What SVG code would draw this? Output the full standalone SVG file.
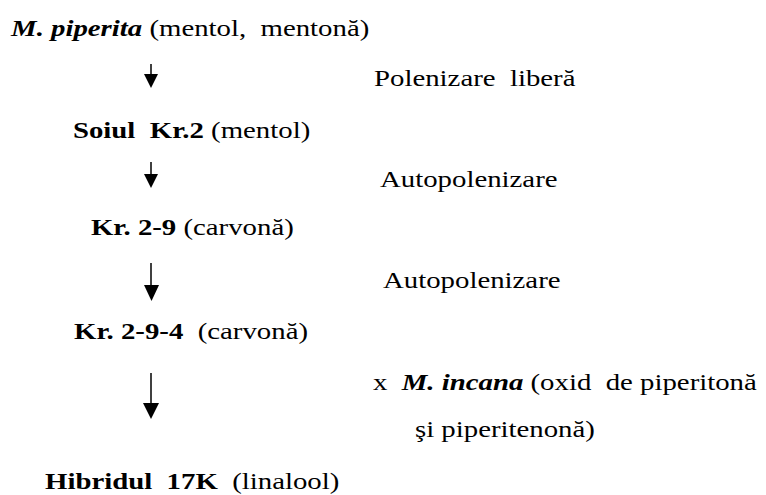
<svg xmlns="http://www.w3.org/2000/svg" width="766" height="495" viewBox="0 0 766 495">
<style>
text{font-family:'Liberation Serif','Times New Roman',serif;font-size:24px;fill:#000;white-space:pre}
.b{font-weight:bold}
.bi{font-weight:bold;font-style:italic}
.arr line{stroke:#000;stroke-width:1.5}
.arr polygon{fill:#000}
</style>
<rect width="766" height="495" fill="#fff"/>
<g transform="scale(1.2 1)">
<g id="n1"><text x="9.2" y="36"><tspan class="bi">M. piperita</tspan> (mentol,  mentonă)</text></g>
<g id="n2"><text x="60.8" y="138"><tspan class="b">Soiul  Kr.2</tspan> (mentol)</text></g>
<g id="n3"><text x="75.8" y="235"><tspan class="b">Kr. 2-9</tspan> (carvonă)</text></g>
<g id="n4"><text x="61.7" y="339"><tspan class="b">Kr. 2-9-4</tspan>  (carvonă)</text></g>
<g id="n5"><text x="37.5" y="489"><tspan class="b">Hibridul  17K</tspan>  (linalool)</text></g>
<g id="l1"><text x="311.7" y="86">Polenizare  liberă</text></g>
<g id="l2"><text x="316.7" y="187">Autopolenizare</text></g>
<g id="l3"><text x="319.2" y="288">Autopolenizare</text></g>
<g id="l4"><text x="310.8" y="390">x  <tspan class="bi">M. incana</tspan> (oxid  de piperitonă</text><text x="345.8" y="437">şi piperitenonă)</text></g>
</g>
<g id="connectors" class="arr">
<line x1="151" y1="64" x2="151" y2="76"/><polygon points="144,74 158,74 151,88"/>
<line x1="151" y1="162" x2="151" y2="176"/><polygon points="144,174 158,174 151,188"/>
<line x1="151" y1="263" x2="151" y2="287"/><polygon points="144,285 159,285 151.5,301"/>
<line x1="151" y1="373" x2="151" y2="405"/><polygon points="143,403 159,403 151,419"/>
</g>
</svg>
